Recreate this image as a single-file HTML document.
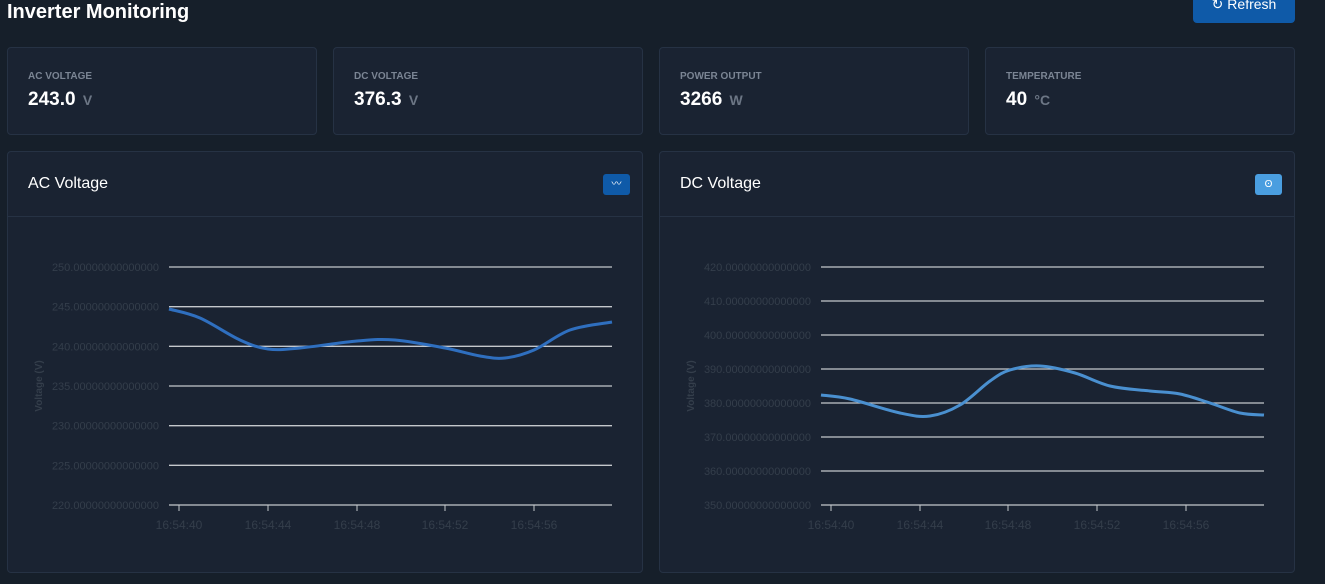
<!DOCTYPE html>
<html><head><meta charset="utf-8"><style>
*{box-sizing:border-box;margin:0;padding:0}
body{width:1325px;height:584px;overflow:hidden;background:#161f2a;font-family:"Liberation Sans",sans-serif;position:relative}
.t{position:absolute;left:7px;top:1px;color:#fff;font-size:20px;font-weight:bold}
.btn{position:absolute;left:1193px;top:-8px;width:102px;height:31px;background:#0f5aa8;border-radius:4px;color:#fff;font-size:14px;text-align:center;line-height:20px;padding-top:2px}
.card{position:absolute;background:#1a2332;border:1px solid #263244;border-radius:4px}
.lab{position:absolute;left:20px;top:23px;font-size:10px;font-weight:bold;color:#7b8594}
.val{position:absolute;left:20px;top:41px;font-size:19px;font-weight:bold;color:#fff}
.val span{font-size:14px;color:#6c7685;font-weight:bold;margin-left:2px}
.ct{position:absolute;left:20px;top:23px;color:#fff;font-size:16px}
.hd{position:absolute;left:0;right:0;top:64px;border-top:1px solid #263244}
.ic{position:absolute;top:22px;width:27px;height:21px;border-radius:3px;color:#fff;font-size:10px;text-align:center;line-height:21px}
svg{position:absolute;left:0;top:0}
</style></head><body>
<div class="t">Inverter Monitoring</div>
<div class="btn">↻ Refresh</div>
<div class="card" style="left:7px;top:47px;width:310px;height:88px"><div class="lab">AC VOLTAGE</div><div class="val">243.0 <span>V</span></div></div>
<div class="card" style="left:333px;top:47px;width:310px;height:88px"><div class="lab">DC VOLTAGE</div><div class="val">376.3 <span>V</span></div></div>
<div class="card" style="left:659px;top:47px;width:310px;height:88px"><div class="lab">POWER OUTPUT</div><div class="val">3266 <span>W</span></div></div>
<div class="card" style="left:985px;top:47px;width:310px;height:88px"><div class="lab">TEMPERATURE</div><div class="val">40 <span>°C</span></div></div>
<div class="card" style="left:7px;top:151px;width:636px;height:422px"><div class="ct">AC Voltage</div><div class="hd"></div><div class="ic" style="left:595px;background:#0f5aa8">〰</div></div>
<div class="card" style="left:659px;top:151px;width:636px;height:422px"><div class="ct">DC Voltage</div><div class="hd"></div><div class="ic" style="left:595px;background:#4a9ee0">ʘ</div></div>
<svg id="s" width="1325" height="584" font-family="Liberation Sans, sans-serif"></svg>
<script>
var s=document.getElementById('s'),h='';
function chart(x0,x1,vals,yTop,yBot,ticks,pts,col){
 var n=vals.length;
 for(var i=0;i<n;i++){var y=yTop+(yBot-yTop)*i/(n-1);
  h+='<line x1="'+x0+'" x2="'+x1+'" y1="'+y+'" y2="'+y+'" stroke="#c4c8cc" stroke-width="1.3"/>';
  h+='<text x="'+(x0-10)+'" y="'+(y+4)+'" font-size="11" fill="#343e4b" text-anchor="end">'+vals[i]+'.00000000000000</text>';}
 var lab=['16:54:40','16:54:44','16:54:48','16:54:52','16:54:56'];
 for(i=0;i<5;i++){h+='<line x1="'+ticks[i]+'" x2="'+ticks[i]+'" y1="'+yBot+'" y2="'+(yBot+6)+'" stroke="#c4c8cc"/>';
  h+='<text x="'+ticks[i]+'" y="'+(yBot+24)+'" font-size="12" fill="#343e4b" text-anchor="middle">'+lab[i]+'</text>';}
 var cy=(yTop+yBot)/2,cx=x0-127;
 h+='<text transform="translate('+cx+','+cy+') rotate(-90)" font-size="10" font-weight="bold" fill="#343e4b" text-anchor="middle">Voltage (V)</text>';
 var d='M'+pts[0][0]+','+pts[0][1];
 for(i=0;i<pts.length-1;i++){var p0=pts[Math.max(i-1,0)],p1=pts[i],p2=pts[i+1],p3=pts[Math.min(i+2,pts.length-1)];
  d+=' C'+(p1[0]+(p2[0]-p0[0])/6)+','+(p1[1]+(p2[1]-p0[1])/6)+' '+(p2[0]-(p3[0]-p1[0])/6)+','+(p2[1]-(p3[1]-p1[1])/6)+' '+p2[0]+','+p2[1];}
 h+='<path d="'+d+'" fill="none" stroke="'+col+'" stroke-width="3"/>';
}
chart(169,612,[250,245,240,235,230,225,220],267,505,[179,268,357,445,534],
 [[169,309],[200,318],[240,340],[268,349],[300,348],[357,341],[395,340],[445,348],[480,356],[505,358],[534,350],[570,330],[612,322]],'#2f6fbf');
chart(821,1264,[420,410,400,390,380,370,360,350],267,505,[831,920,1008,1097,1186],
 [[821,395],[850,399],[900,413],[930,416],[960,405],[990,381],[1010,370],[1040,366],[1075,373],[1110,386],[1150,391],[1180,394],[1210,403],[1240,413],[1264,415]],'#4a90d0');
s.innerHTML=h;
</script>
</body></html>
